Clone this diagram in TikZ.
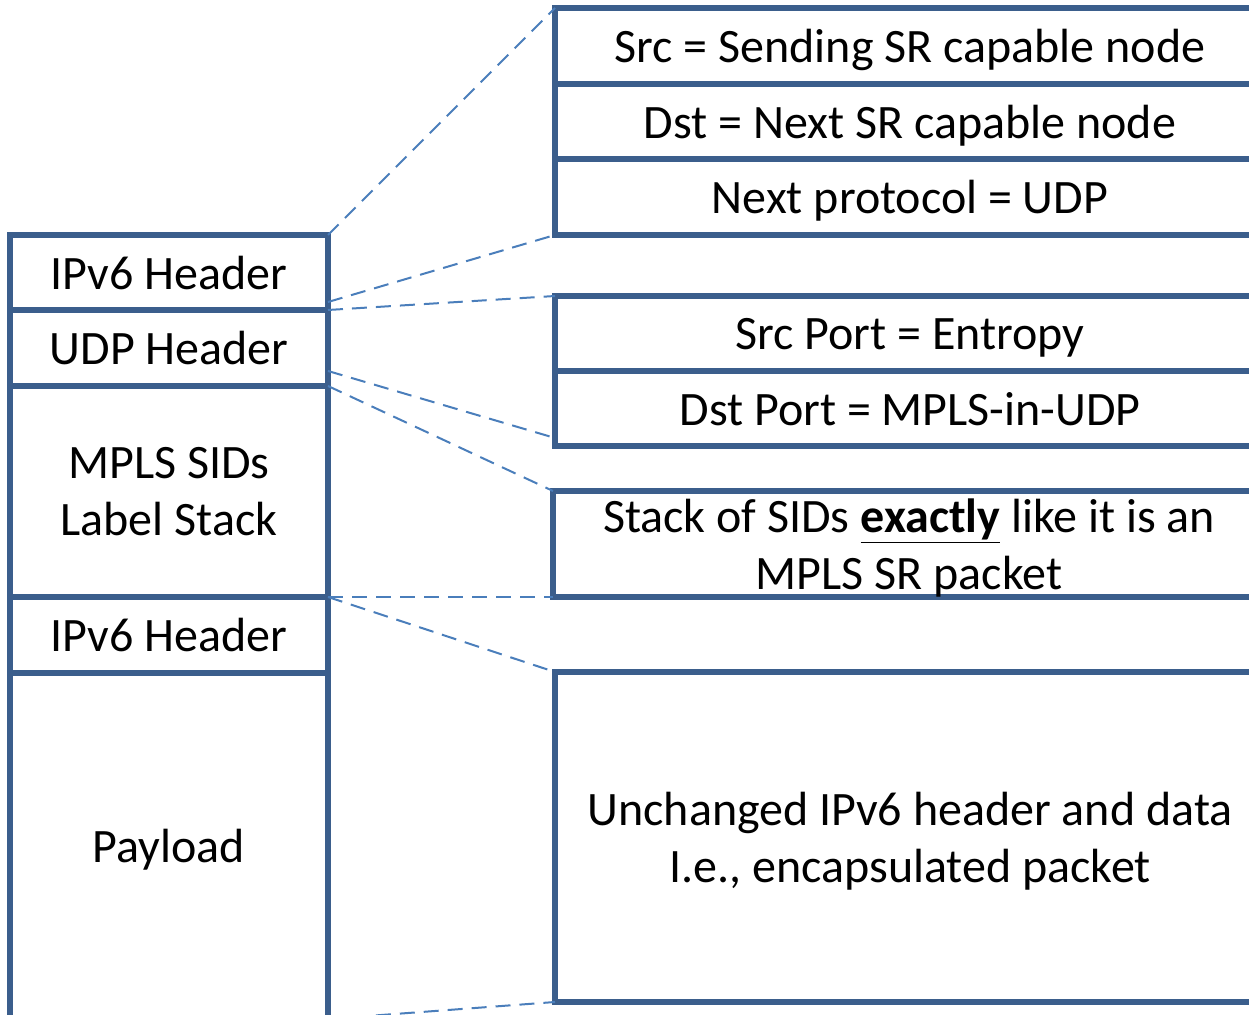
\documentclass[tikz,border=0pt]{standalone}
\usepackage{fontspec}
\setmainfont{Carlito}
\usetikzlibrary{positioning,calc}
\definecolor{boxblue}{HTML}{3B5E8C}
\definecolor{linkblue}{HTML}{4A7EBB}

\tikzset{
	field/.style={draw=boxblue, line width=2.6pt, inner sep=0pt, outer sep=0pt, align=center,
		text depth=0pt, font=\fontsize{24}{28.5}\selectfont},
	link/.style={draw=linkblue, line width=1pt, dash pattern=on 7.5pt off 4.5pt},
}

\begin{document}
\begin{tikzpicture}[x=0.5pt, y=-0.5pt]
\clip (0,0) rectangle (1249,1015);
\def\lw{159pt}
\def\rw{355pt}

% encapsulated packet
\node [field, minimum width=\lw, minimum height=37.5pt] (ipA) at (169, 272.5) {IPv6 Header};
\node [field, minimum width=\lw, minimum height=38pt] (udp) at (169, 348) {UDP Header};
\node [field, minimum width=\lw, minimum height=105.5pt] (mpls) at (169, 491.5) {MPLS SIDs\\Label Stack};
\node [field, minimum width=\lw, minimum height=38pt] (ipB) at (169, 635) {IPv6 Header};
\node [field, minimum width=\lw, minimum height=173pt] (pay) at (169, 846) {Payload};

% outer IPv6 header
\node [field, minimum width=\rw, minimum height=38pt] (src) at (910, 46) {Src = Sending SR capable node};
\node [field, minimum width=\rw, minimum height=37.5pt] (dst) at (910, 121.5) {Dst = Next SR capable node};
\node [field, minimum width=\rw, minimum height=38pt] (nxt) at (910, 197) {Next protocol = UDP};

% UDP header
\node [field, minimum width=\rw, minimum height=37.5pt] (sport) at (910, 333.5) {Src Port = Entropy};
\node [field, minimum width=\rw, minimum height=37.5pt] (dport) at (910, 408.5) {Dst Port = MPLS-in-UDP};

% label stack
\node [field, minimum width=356pt, minimum height=53pt] (stk) at (909, 544)
	{Stack of SIDs \textbf{\underline{exactly}} like it is an\\MPLS SR packet};

% inner packet
\node [field, minimum width=\rw, minimum height=165pt] (unch) at (910, 837)
	{Unchanged IPv6 header and data\\I.e., encapsulated packet};

\coordinate (ipTap) at ($(ipA.south east)+(0,-8)$);
\coordinate (udpTap) at ($(udp.south east)+(0,-15)$);
\coordinate (dportEnd) at ($(dport.south west)+(0,-8)$);

\draw [link] (ipA.north east) -- (src.north west);
\draw [link] (ipTap) -- (nxt.south west);
\draw [link] (ipA.south east) -- (sport.north west);
\draw [link] (udpTap) -- (dportEnd);
\draw [link] (udp.south east) -- (stk.north west);
\draw [link] (mpls.south east) -- (stk.south west);
\draw [link] (mpls.south east) -- (unch.north west);
\draw [link] (pay.south east) -- (unch.south west);

\end{tikzpicture}
\end{document}
